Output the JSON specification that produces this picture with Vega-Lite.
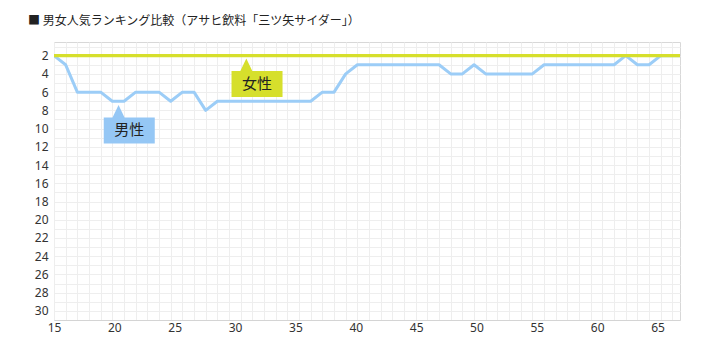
{
  "$schema": "https://vega.github.io/schema/vega-lite/v6.json",
  "width": 626,
  "height": 278,
  "autosize": {"type": "none"},
  "padding": {"left": 54, "top": 42, "right": 28, "bottom": 32},
  "background": "white",
  "title": {
    "text": "■ 男女人気ランキング比較（アサヒ飲料「三ツ矢サイダー」）",
    "anchor": "start",
    "frame": "group",
    "dx": -26,
    "offset": 13,
    "font": "Noto Sans CJK JP",
    "fontSize": 12,
    "fontWeight": "normal",
    "color": "#222222"
  },
  "config": {
    "view": {"stroke": "#d8d8d8"},
    "axis": {"labelFont": "Noto Sans", "labelFontSize": 12, "labelColor": "#333333", "title": null}
  },
  "datasets": {
    "rank": [
      {"sex": "男性", "age": 16, "rank": 2}, {"sex": "男性", "age": 17, "rank": 3}, {"sex": "男性", "age": 18, "rank": 6},
      {"sex": "男性", "age": 19, "rank": 6}, {"sex": "男性", "age": 20, "rank": 6}, {"sex": "男性", "age": 21, "rank": 7},
      {"sex": "男性", "age": 22, "rank": 7}, {"sex": "男性", "age": 23, "rank": 6}, {"sex": "男性", "age": 24, "rank": 6},
      {"sex": "男性", "age": 25, "rank": 6}, {"sex": "男性", "age": 26, "rank": 7}, {"sex": "男性", "age": 27, "rank": 6},
      {"sex": "男性", "age": 28, "rank": 6}, {"sex": "男性", "age": 29, "rank": 8}, {"sex": "男性", "age": 30, "rank": 7},
      {"sex": "男性", "age": 31, "rank": 7}, {"sex": "男性", "age": 32, "rank": 7}, {"sex": "男性", "age": 33, "rank": 7},
      {"sex": "男性", "age": 34, "rank": 7}, {"sex": "男性", "age": 35, "rank": 7}, {"sex": "男性", "age": 36, "rank": 7},
      {"sex": "男性", "age": 37, "rank": 7}, {"sex": "男性", "age": 38, "rank": 7}, {"sex": "男性", "age": 39, "rank": 6},
      {"sex": "男性", "age": 40, "rank": 6}, {"sex": "男性", "age": 41, "rank": 4}, {"sex": "男性", "age": 42, "rank": 3},
      {"sex": "男性", "age": 43, "rank": 3}, {"sex": "男性", "age": 44, "rank": 3}, {"sex": "男性", "age": 45, "rank": 3},
      {"sex": "男性", "age": 46, "rank": 3}, {"sex": "男性", "age": 47, "rank": 3}, {"sex": "男性", "age": 48, "rank": 3},
      {"sex": "男性", "age": 49, "rank": 3}, {"sex": "男性", "age": 50, "rank": 4}, {"sex": "男性", "age": 51, "rank": 4},
      {"sex": "男性", "age": 52, "rank": 3}, {"sex": "男性", "age": 53, "rank": 4}, {"sex": "男性", "age": 54, "rank": 4},
      {"sex": "男性", "age": 55, "rank": 4}, {"sex": "男性", "age": 56, "rank": 4}, {"sex": "男性", "age": 57, "rank": 4},
      {"sex": "男性", "age": 58, "rank": 3}, {"sex": "男性", "age": 59, "rank": 3}, {"sex": "男性", "age": 60, "rank": 3},
      {"sex": "男性", "age": 61, "rank": 3}, {"sex": "男性", "age": 62, "rank": 3}, {"sex": "男性", "age": 63, "rank": 3},
      {"sex": "男性", "age": 64, "rank": 3}, {"sex": "男性", "age": 65, "rank": 2}, {"sex": "男性", "age": 66, "rank": 3},
      {"sex": "男性", "age": 67, "rank": 3}, {"sex": "男性", "age": 68, "rank": 2}, {"sex": "男性", "age": 69, "rank": 2},
      {"sex": "男性", "age": 70, "rank": 2},
      {"sex": "女性", "age": 16, "rank": 2}, {"sex": "女性", "age": 17, "rank": 2}, {"sex": "女性", "age": 18, "rank": 2},
      {"sex": "女性", "age": 19, "rank": 2}, {"sex": "女性", "age": 20, "rank": 2}, {"sex": "女性", "age": 21, "rank": 2},
      {"sex": "女性", "age": 22, "rank": 2}, {"sex": "女性", "age": 23, "rank": 2}, {"sex": "女性", "age": 24, "rank": 2},
      {"sex": "女性", "age": 25, "rank": 2}, {"sex": "女性", "age": 26, "rank": 2}, {"sex": "女性", "age": 27, "rank": 2},
      {"sex": "女性", "age": 28, "rank": 2}, {"sex": "女性", "age": 29, "rank": 2}, {"sex": "女性", "age": 30, "rank": 2},
      {"sex": "女性", "age": 31, "rank": 2}, {"sex": "女性", "age": 32, "rank": 2}, {"sex": "女性", "age": 33, "rank": 2},
      {"sex": "女性", "age": 34, "rank": 2}, {"sex": "女性", "age": 35, "rank": 2}, {"sex": "女性", "age": 36, "rank": 2},
      {"sex": "女性", "age": 37, "rank": 2}, {"sex": "女性", "age": 38, "rank": 2}, {"sex": "女性", "age": 39, "rank": 2},
      {"sex": "女性", "age": 40, "rank": 2}, {"sex": "女性", "age": 41, "rank": 2}, {"sex": "女性", "age": 42, "rank": 2},
      {"sex": "女性", "age": 43, "rank": 2}, {"sex": "女性", "age": 44, "rank": 2}, {"sex": "女性", "age": 45, "rank": 2},
      {"sex": "女性", "age": 46, "rank": 2}, {"sex": "女性", "age": 47, "rank": 2}, {"sex": "女性", "age": 48, "rank": 2},
      {"sex": "女性", "age": 49, "rank": 2}, {"sex": "女性", "age": 50, "rank": 2}, {"sex": "女性", "age": 51, "rank": 2},
      {"sex": "女性", "age": 52, "rank": 2}, {"sex": "女性", "age": 53, "rank": 2}, {"sex": "女性", "age": 54, "rank": 2},
      {"sex": "女性", "age": 55, "rank": 2}, {"sex": "女性", "age": 56, "rank": 2}, {"sex": "女性", "age": 57, "rank": 2},
      {"sex": "女性", "age": 58, "rank": 2}, {"sex": "女性", "age": 59, "rank": 2}, {"sex": "女性", "age": 60, "rank": 2},
      {"sex": "女性", "age": 61, "rank": 2}, {"sex": "女性", "age": 62, "rank": 2}, {"sex": "女性", "age": 63, "rank": 2},
      {"sex": "女性", "age": 64, "rank": 2}, {"sex": "女性", "age": 65, "rank": 2}, {"sex": "女性", "age": 66, "rank": 2},
      {"sex": "女性", "age": 67, "rank": 2}, {"sex": "女性", "age": 68, "rank": 2}, {"sex": "女性", "age": 69, "rank": 2},
      {"sex": "女性", "age": 70, "rank": 2}
    ],
    "callout": [
      {"sex": "女性", "age": 33.4, "rank": 5.1},
      {"sex": "男性", "age": 22.45, "rank": 10.2}
    ]
  },
  "encoding": {
    "y": {
      "field": "rank", "type": "quantitative",
      "scale": {"domain": [0.5, 31], "reverse": true, "nice": false, "zero": false},
      "axis": {
        "values": [1,2,3,4,5,6,7,8,9,10,11,12,13,14,15,16,17,18,19,20,21,22,23,24,25,26,27,28,29,30,31],
        "grid": true, "gridColor": "#eeeeee", "ticks": false, "domain": false,
        "labelExpr": "datum.value % 2 == 0 ? datum.label : ''",
        "labelPadding": 6, "labelDy": 3, "labelOverlap": false
      }
    }
  },
  "layer": [
    {
      "data": {"name": "rank"},
      "transform": [{"filter": "datum.sex == '男性'"}],
      "mark": {"type": "line", "color": "#9ccdf7", "strokeWidth": 3, "clip": true, "strokeJoin": "round"},
      "encoding": {
        "x": {
          "field": "age", "type": "quantitative",
          "scale": {"domain": [16, 69.65], "nice": false, "zero": false},
          "axis": {
            "orient": "bottom",
            "values": [16,17,18,19,20,21,22,23,24,25,26,27,28,29,30,31,32,33,34,35,36,37,38,39,40,41,42,43,44,45,46,47,48,49,50,51,52,53,54,55,56,57,58,59,60,61,62,63,64,65,66,67,68,69],
            "grid": true, "gridColor": "#eeeeee", "labels": false, "ticks": false,
            "domain": true, "domainColor": "#d4d4d4"
          }
        }
      }
    },
    {
      "data": {"name": "rank"},
      "transform": [{"filter": "datum.sex == '女性'"}],
      "mark": {"type": "line", "color": "#d6df2c", "strokeWidth": 3.4, "clip": true},
      "encoding": {
        "x": {"field": "age", "type": "quantitative", "scale": {"domain": [16, 69.65], "nice": false, "zero": false}, "axis": null}
      }
    },
    {
      "data": {"name": "callout"},
      "mark": {
        "type": "point", "filled": true, "opacity": 1, "strokeWidth": 0, "size": 2601,
        "shape": "M-1,-0.51L-0.655,-0.51L-0.42,-1.0L-0.185,-0.51L1,-0.51L1,0.51L-1,0.51Z"
      },
      "encoding": {
        "x": {"field": "age", "type": "quantitative", "scale": {"domain": [16, 69.65], "nice": false, "zero": false}, "axis": null},
        "fill": {
          "field": "sex", "type": "nominal",
          "scale": {"domain": ["女性", "男性"], "range": ["#d6df2c", "#95c7f5"]},
          "legend": null
        }
      }
    },
    {
      "data": {"name": "callout"},
      "mark": {"type": "text", "font": "Noto Sans CJK JP", "fontSize": 15, "color": "#222222", "align": "center", "baseline": "middle"},
      "encoding": {
        "x": {"field": "age", "type": "quantitative", "scale": {"domain": [16, 69.65], "nice": false, "zero": false}, "axis": null},
        "text": {"field": "sex"}
      }
    },
    {
      "data": {"name": "rank"},
      "transform": [{"filter": "datum.sex == '女性'"}],
      "mark": {"type": "point", "opacity": 0},
      "encoding": {
        "x": {
          "field": "age", "type": "quantitative",
          "scale": {"domain": [15, 66.86], "nice": false, "zero": false},
          "axis": {
            "orient": "bottom",
            "values": [15, 20, 25, 30, 35, 40, 45, 50, 55, 60, 65],
            "grid": false, "ticks": false, "domain": false,
            "labelDx": -15.5, "labelPadding": 2, "labelFlush": false, "labelOverlap": false
          }
        }
      }
    }
  ],
  "resolve": {"scale": {"x": "independent"}, "axis": {"x": "independent"}}
}
